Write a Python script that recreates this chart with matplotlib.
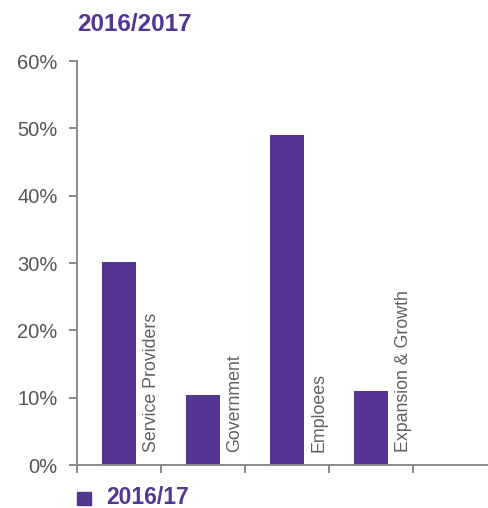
import matplotlib.pyplot as plt

# Dados do gráfico
categorias = ['Service Providers', 'Government', 'Emploees', 'Expansion & Growth']
valores = [30.2, 10.4, 49.0, 11.0]
yticks = [0, 10, 20, 30, 40, 50, 60]
titulo = '2016/2017'
serie = '2016/17'

roxo = '#553592'
cinza = '#8a8a8a'
texto = '#555555'

plt.rcParams['font.family'] = ['Liberation Sans', 'DejaVu Sans']

fig = plt.figure(figsize=(4.88, 5.08), dpi=100)
ax = fig.add_axes([0.158, 0.0846, 0.842, 0.795])

x = [i + 0.5 for i in range(len(categorias))]
ax.bar(x, valores, width=0.4, color=roxo, zorder=2)

# Rótulos verticais ao lado de cada barra
for xi, nome in zip(x, categorias):
    ax.text(xi + 0.38, 2.0, nome, rotation=90, ha='center', va='bottom',
            fontsize=12.8, color='#606060')

ax.set_xlim(0, 4.89)
ax.set_ylim(0, 60)
ax.set_yticks(yticks)
ax.set_yticklabels([f'{v}%' for v in yticks], fontsize=14.5, color=texto)
ax.set_xticks(range(5))
ax.set_xticklabels([])

for lado in ['top', 'right']:
    ax.spines[lado].set_visible(False)
for lado in ['left', 'bottom']:
    ax.spines[lado].set_color(cinza)
    ax.spines[lado].set_linewidth(1.4)
ax.tick_params(axis='both', color=cinza, width=1.4, length=6)
ax.tick_params(axis='y', pad=8)

fig.text(0.158, 0.952, titulo, fontsize=17.5, fontweight='bold', color=roxo,
         ha='left', va='center')

# Legenda
fig.patches.append(plt.Rectangle((0.158, 0.006), 0.029, 0.026, color=roxo,
                                 transform=fig.transFigure, figure=fig))
fig.text(0.217, 0.021, serie, fontsize=16.5, fontweight='bold', color=roxo,
         ha='left', va='center')

fig.savefig('out.png', dpi=100)
